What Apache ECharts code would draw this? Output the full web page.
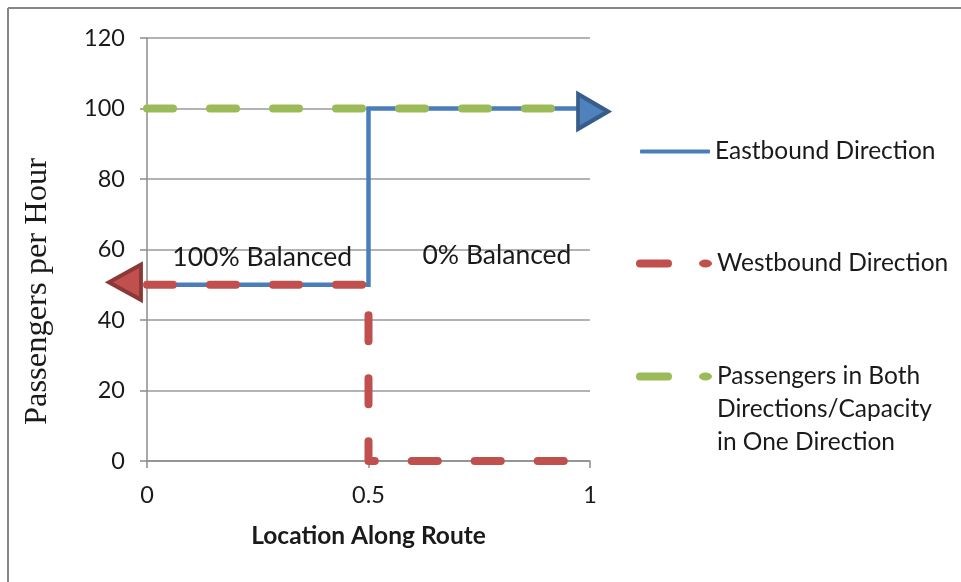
<!DOCTYPE html>
<html>
<head>
<meta charset="utf-8">
<title>Passengers per Hour along route</title>
<script src="https://cdn.jsdelivr.net/npm/echarts@6/dist/echarts.min.js"></script>
<style>
  html, body { margin: 0; padding: 0; background: #ffffff; }
  #chart { width: 961px; height: 582px; }
</style>
</head>
<body>
<div id="chart"></div>
<script>
// Route position (0 = west end, 1 = east end) and passenger volumes
const eastX = [0, 0.5, 0.5, 1];
const eastY = [50, 50, 100, 100];
const westX = [0, 0.5, 0.5, 1];
const westY = [50, 50, 0, 0];
const bothX = [0, 1];
const bothY = [100, 100];

// Series names (legend text)
const eastName = 'Eastbound Direction';
const westName = 'Westbound Direction';
const bothLines = ['Passengers in Both', 'Directions/Capacity', 'in One Direction'];
const bothName = bothLines.join(' ');

// Axis ticks
const xTicks = [0, 0.5, 1];
const yTicks = [0, 20, 40, 60, 80, 100, 120];

// Region notes: [x, y, text]
const notes = [
  [0.26, 57.8, '100% Balanced'],
  [0.79, 58.2, '0% Balanced']
];

const BLUE = '#4A7EBB', BLUE_FILL = '#4F81BD', BLUE_EDGE = '#385D8A';
const RED = '#C0504D', RED_EDGE = '#8C3836';
const GREEN = '#9BBB59';
const SANS = 'Lato, "Open Sans", sans-serif';
const TXT = '#1a1a1a';

const pts = (xs, ys) => xs.map((x, i) => [x, ys[i]]);
const east = pts(eastX, eastY);
const west = pts(westX, westY);
const both = pts(bothX, bothY);

// arrow heads: eastbound flow ends at its last point, westbound at its first point
const heads = [
  {
    value: east[east.length - 1],
    symbol: 'triangle', symbolSize: [35, 30], symbolRotate: -90, symbolOffset: [3, 3],
    itemStyle: { color: BLUE_FILL, borderColor: BLUE_EDGE, borderWidth: 4, opacity: 1 }
  },
  {
    value: west[0],
    symbol: 'triangle', symbolSize: [35, 32], symbolRotate: 90, symbolOffset: [-22, -2.5],
    itemStyle: { color: RED, borderColor: RED_EDGE, borderWidth: 4, opacity: 1 }
  }
];

const dashPattern = [26, 37];

const chart = echarts.init(document.getElementById('chart'), null, { renderer: 'canvas' });

const legendBase = {
  orient: 'vertical',
  padding: 0,
  selectedMode: false,
  itemStyle: { borderWidth: 0 },
  textStyle: { fontFamily: SANS, fontSize: 24.5, color: TXT }
};

chart.setOption({
  animation: false,
  backgroundColor: '#ffffff',
  grid: { left: 147, right: 371, top: 38, bottom: 121, containLabel: false },
  xAxis: {
    type: 'value',
    min: xTicks[0], max: xTicks[xTicks.length - 1], interval: xTicks[1] - xTicks[0],
    name: 'Location Along Route',
    nameLocation: 'middle',
    nameGap: 63,
    nameTextStyle: { fontFamily: SANS, fontWeight: 'bold', fontSize: 24.5, color: TXT },
    axisLine: { show: true, lineStyle: { color: '#8c8c8c', width: 1.5 } },
    axisTick: { show: true, length: 7, lineStyle: { color: '#8c8c8c', width: 1.5 } },
    axisLabel: { margin: 22, fontFamily: SANS, fontSize: 23.5, color: TXT },
    splitLine: { show: false }
  },
  yAxis: {
    type: 'value',
    min: yTicks[0], max: yTicks[yTicks.length - 1], interval: yTicks[1] - yTicks[0],
    name: 'Passengers per Hour',
    nameLocation: 'middle',
    nameGap: 93,
    nameTextStyle: {
      fontFamily: '"Liberation Serif", "DejaVu Serif", serif', fontSize: 32.5, color: TXT,
      padding: [0, 84, 0, 0]
    },
    axisLine: { show: true, lineStyle: { color: '#8c8c8c', width: 1.5 } },
    axisTick: { show: true, length: 7, lineStyle: { color: '#8c8c8c', width: 1.5 } },
    axisLabel: { margin: 22, fontFamily: SANS, fontSize: 23.5, color: TXT },
    splitLine: { show: true, lineStyle: { color: '#9a9a9a', width: 1.5 } }
  },
  legend: [
    Object.assign({}, legendBase, {
      left: 640, top: 139,
      itemWidth: 70, itemHeight: 4,
      data: [{ name: eastName, icon: 'roundRect' }]
    }),
    Object.assign({}, legendBase, {
      left: 636, top: 251,
      itemWidth: 76, itemHeight: 8,
      data: [{
        name: westName,
        icon: 'path://M4,0 H32 A4,4 0 0 1 32,8 H4 A4,4 0 0 1 4,0 Z M69.5,0 A6.5,4 0 1 1 69.5,8 A6.5,4 0 1 1 69.5,0 Z'
      }]
    }),
    Object.assign({}, legendBase, {
      left: 636, top: 294,
      itemWidth: 76, itemHeight: 8,
      formatter: () => '\n\n' + bothLines.join('\n'),
      textStyle: Object.assign({}, legendBase.textStyle, { lineHeight: 33 }),
      data: [{
        name: bothName,
        icon: 'path://M4,0 H32 A4,4 0 0 1 32,8 H4 A4,4 0 0 1 4,0 Z M69.5,0 A6.5,4 0 1 1 69.5,8 A6.5,4 0 1 1 69.5,0 Z'
      }]
    })
  ],
  graphic: [
    { type: 'line', shape: { x1: 8, y1: 8, x2: 961, y2: 8 }, style: { stroke: '#868686', lineWidth: 2 }, silent: true },
    { type: 'line', shape: { x1: 8, y1: 8, x2: 8, y2: 582 }, style: { stroke: '#868686', lineWidth: 2 }, silent: true }
  ],
  series: [
    {
      name: eastName,
      type: 'line',
      data: east,
      symbol: 'none',
      color: BLUE,
      lineStyle: { color: BLUE, width: 4.5, join: 'miter' },
      z: 2
    },
    {
      name: westName,
      type: 'line',
      data: west,
      symbol: 'none',
      color: RED,
      lineStyle: { color: RED, width: 8, type: dashPattern, cap: 'round', join: 'round' },
      z: 2
    },
    {
      name: bothName,
      type: 'line',
      data: both,
      symbol: 'none',
      color: GREEN,
      lineStyle: { color: GREEN, width: 8, type: dashPattern, cap: 'round', join: 'round' },
      z: 2
    },
    {
      name: 'arrow heads',
      type: 'scatter',
      data: heads,
      z: 5,
      silent: true
    },
    {
      name: 'region notes',
      type: 'scatter',
      data: notes.map(n => ({ value: [n[0], n[1]], name: n[2] })),
      symbolSize: 1,
      itemStyle: { color: 'rgba(0,0,0,0)', opacity: 1 },
      label: {
        show: true, position: 'inside', formatter: '{b}',
        fontFamily: SANS, fontSize: 26.5, color: TXT
      },
      z: 4,
      silent: true
    }
  ]
});
</script>
</body>
</html>
